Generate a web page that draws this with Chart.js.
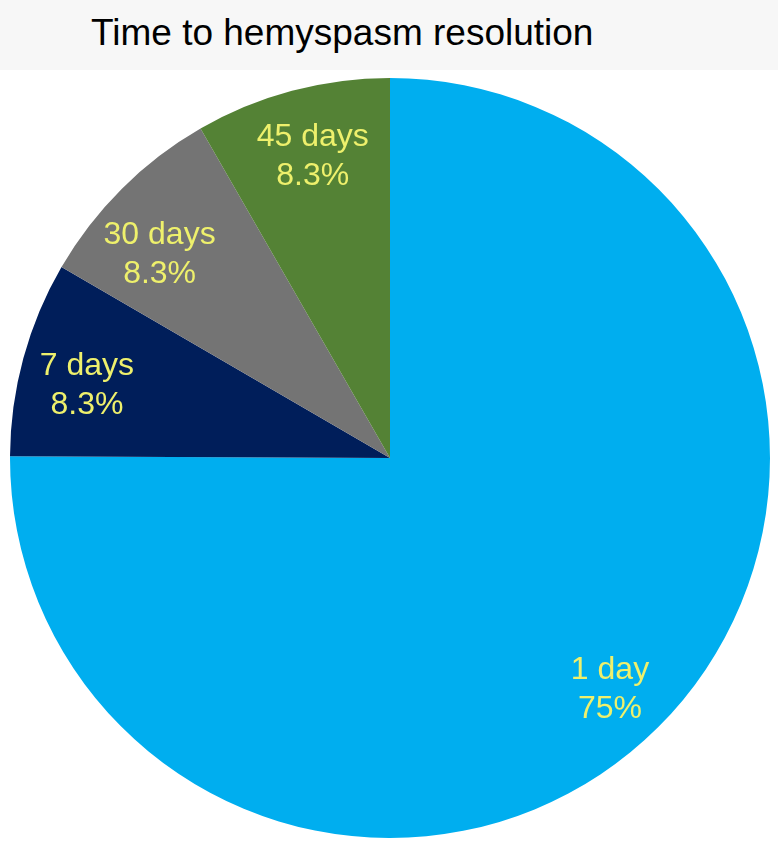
<!DOCTYPE html>
<html>
<head>
<meta charset="utf-8">
<script src="https://cdn.jsdelivr.net/npm/chart.js@4"></script>
<style>
    html, body { margin: 0; padding: 0; background: #ffffff; }
    body { width: 778px; height: 846px; position: relative; overflow: hidden; font-family: "Liberation Sans", Arial, sans-serif; }
    #title-band {
        position: absolute; left: 0; top: 0; width: 778px; height: 70px;
        background: #f7f7f7;
    }
    #title {
        position: absolute; left: 91px; top: 12px;
        font-size: 37px; color: #000000; white-space: nowrap;
    }
    #chart-wrap { position: absolute; left: 10px; top: 78px; width: 760px; height: 760px; }
</style>
</head>
<body>
<div id="title-band"><div id="title">Time to hemyspasm resolution</div></div>
<div id="chart-wrap"><canvas id="pieChart"></canvas></div>
<script>
const categories = ['1 day', '7 days', '30 days', '45 days'];
const percentages = [75, 8.3, 8.3, 8.3];
const sliceColors = ['#00aeef', '#001e5a', '#747474', '#548235'];
const LABEL_COLOR = '#eef06c';

// label placement tweaks per slice: radius fraction and angle nudge (deg)
const labelRadius = [0.84, 0.82, 0.81, 0.82];
const labelNudge = [1.3, -1.8, -3.6, 0.6];

// draws "category / value%" inside each slice
const sliceLabels = {
    id: 'sliceLabels',
    afterDatasetsDraw(chart) {
        const ctx = chart.ctx;
        const meta = chart.getDatasetMeta(0);
        ctx.save();
        ctx.fillStyle = LABEL_COLOR;
        ctx.font = '32px "Liberation Sans", Arial, sans-serif';
        ctx.textAlign = 'center';
        ctx.textBaseline = 'middle';
        meta.data.forEach((arc, i) => {
            const mid = (arc.startAngle + arc.endAngle) / 2 + labelNudge[i] * Math.PI / 180;
            const r = arc.outerRadius * labelRadius[i];
            const x = arc.x + Math.cos(mid) * r;
            const y = arc.y + Math.sin(mid) * r;
            ctx.fillText(categories[i], x, y - 19);
            ctx.fillText(percentages[i] + '%', x, y + 20);
        });
        ctx.restore();
    }
};

const ctx = document.getElementById('pieChart').getContext('2d');
const pieChart = new Chart(ctx, {
    type: 'pie',
    data: {
        labels: categories,
        datasets: [{
            data: percentages,
            backgroundColor: sliceColors,
            borderWidth: 0
        }]
    },
    options: {
        responsive: true,
        maintainAspectRatio: false,
        animation: false,
        layout: { padding: 0 },
        plugins: {
            legend: { display: false },
            tooltip: { enabled: false }
        }
    },
    plugins: [sliceLabels]
});
</script>
</body>
</html>
